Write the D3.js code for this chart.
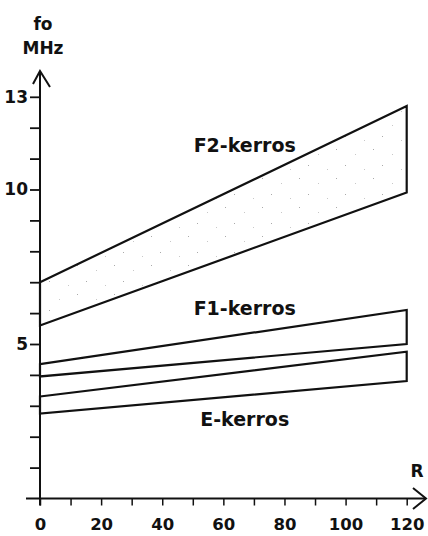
<!DOCTYPE html>
<html>
<head>
<meta charset="utf-8">
<script src="https://cdn.jsdelivr.net/npm/d3@7"></script>
<style>
  html, body { margin: 0; padding: 0; background: #fff; }
  svg { display: block; }
  text { font-family: "DejaVu Sans", "Liberation Sans", Arial, sans-serif; font-weight: bold; fill: #111; }
</style>
</head>
<body>
<svg id="chart" width="428" height="536"></svg>
<script>
// Solar activity index R (x) and critical frequency fo in MHz (y)
const rValues = [0, 120];

// Layer bands: lower and upper limit of fo at R = 0 and R = 120
const f2Upper = [7.0, 12.7];
const f2Lower = [5.6, 9.9];
const f1Upper = [4.35, 6.1];
const f1Lower = [3.95, 5.0];
const eUpper  = [3.3, 4.75];
const eLower  = [2.75, 3.8];

const layerNames = ["F2-kerros", "F1-kerros", "E-kerros"];

const xTicks = [0, 10, 20, 30, 40, 50, 60, 70, 80, 90, 100, 110, 120];
const xTickLabels = [0, 20, 40, 60, 80, 100, 120];
const yTicks = [1, 2, 3, 4, 5, 6, 7, 8, 9, 10, 11, 12, 13];
const yTickLabels = [5, 10, 13];

const svg = d3.select("#chart");

const x = d3.scaleLinear().domain([0, 120]).range([40, 406.7]);
const y = d3.scaleLinear().domain([0, 13]).range([498.5, 96.8]);

// Sparse dotted texture for the F2 band
const defs = svg.append("defs");
const pat = defs.append("pattern")
  .attr("id", "stipple")
  .attr("patternUnits", "userSpaceOnUse")
  .attr("width", 37).attr("height", 29);
[[3, 4], [22, 9], [12, 20], [31, 24]].forEach(([cx, cy], i) => {
  pat.append("rect")
    .attr("x", cx).attr("y", cy)
    .attr("width", 1).attr("height", 1)
    .attr("fill", i % 2 ? "#c8c8c8" : "#aaa");
});

const bands = [
  { upper: f2Upper, lower: f2Lower, fill: "url(#stipple)" },
  { upper: f1Upper, lower: f1Lower, fill: "none" },
  { upper: eUpper,  lower: eLower,  fill: "none" }
];

const line = d3.line().x(d => x(d[0])).y(d => y(d[1]));

bands.forEach(b => {
  const pts = [
    [rValues[0], b.upper[0]],
    [rValues[1], b.upper[1]],
    [rValues[1], b.lower[1]],
    [rValues[0], b.lower[0]]
  ];
  svg.append("path")
    .attr("d", line(pts) + "Z")
    .attr("fill", b.fill)
    .attr("stroke", "#111")
    .attr("stroke-width", 2.2)
    .attr("stroke-linejoin", "miter");
});

// Layer labels
const labelPos = [
  { r: 67, f: 11.2 },
  { r: 67, f: 5.95 },
  { r: 67, f: 2.35 }
];
layerNames.forEach((name, i) => {
  svg.append("text")
    .attr("x", x(labelPos[i].r))
    .attr("y", y(labelPos[i].f))
    .attr("text-anchor", "middle")
    .attr("font-size", 19)
    .text(name);
});

// X axis
const xAxis = d3.axisBottom(x)
  .tickValues(xTicks)
  .tickSize(7)
  .tickPadding(13)
  .tickFormat(d => xTickLabels.includes(d) ? d : "");
const gx = svg.append("g").attr("transform", `translate(0,${y(0)})`).call(xAxis);
gx.select(".domain").remove();
gx.selectAll(".tick line").attr("stroke", "#111").attr("stroke-width", 1.5);
gx.selectAll(".tick text")
  .attr("font-size", 16.5)
  .attr("font-family", null)
  .attr("fill", "#111");

// Y axis
const yAxis = d3.axisLeft(y)
  .tickValues(yTicks)
  .tickSize(10)
  .tickPadding(2)
  .tickFormat(d => yTickLabels.includes(d) ? d : "");
const gy = svg.append("g").attr("transform", `translate(${x(0)},0)`).call(yAxis);
gy.select(".domain").remove();
gy.selectAll(".tick line").attr("stroke", "#111").attr("stroke-width", 1.8);
gy.selectAll(".tick text")
  .attr("font-size", 17)
  .attr("font-family", null)
  .attr("fill", "#111");

// Axis lines with open arrowheads
const x0 = x(0), yBase = y(0);
svg.append("line")
  .attr("x1", 26).attr("y1", yBase).attr("x2", 426).attr("y2", yBase)
  .attr("stroke", "#111").attr("stroke-width", 2);
svg.append("path")
  .attr("d", `M413,488 L426,${yBase} L413,509`)
  .attr("fill", "none").attr("stroke", "#111").attr("stroke-width", 2);

svg.append("line")
  .attr("x1", x0).attr("y1", yBase + 7).attr("x2", x0).attr("y2", 71)
  .attr("stroke", "#111").attr("stroke-width", 2);
svg.append("path")
  .attr("d", `M33,84 L${x0},71 L50,87`)
  .attr("fill", "none").attr("stroke", "#111").attr("stroke-width", 2);

// Axis titles
svg.append("text").attr("x", 43).attr("y", 30).attr("text-anchor", "middle")
  .attr("font-size", 17).text("fo");
svg.append("text").attr("x", 43).attr("y", 54).attr("text-anchor", "middle")
  .attr("font-size", 17).text("MHz");
svg.append("text").attr("x", 417).attr("y", 477).attr("text-anchor", "middle")
  .attr("font-size", 17).text("R");
</script>
</body>
</html>
